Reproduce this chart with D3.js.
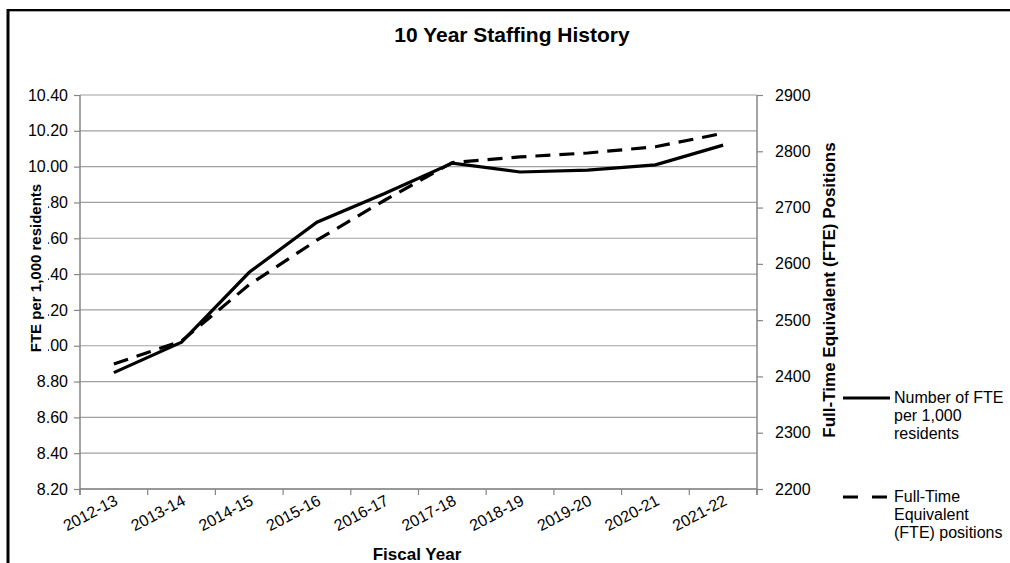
<!DOCTYPE html>
<html><head><meta charset="utf-8">
<script src="https://cdn.jsdelivr.net/npm/d3@7"></script>
<style>body{margin:0;background:#fff;}svg{font-family:"Liberation Sans",Arial,sans-serif;}</style>
</head><body>
<svg id="c" width="1010" height="563"></svg>
<script>
const categories = ["2012-13","2013-14","2014-15","2015-16","2016-17","2017-18","2018-19","2019-20","2020-21","2021-22"];
const ftePer1000 = [8.85, 9.02, 9.41, 9.69, 9.85, 10.02, 9.97, 9.98, 10.01, 10.12];
const ftePositions = [2422, 2463, 2563, 2642, 2713, 2780, 2790, 2797, 2808, 2832];
const leftTicks = [8.2, 8.4, 8.6, 8.8, 9.0, 9.2, 9.4, 9.6, 9.8, 10.0, 10.2, 10.4];
const rightTicks = [2200, 2300, 2400, 2500, 2600, 2700, 2800, 2900];

const svg = d3.select("#c");
const L = 80, R = 757, T = 95, B = 489;

// border
svg.append("line").attr("x1",8).attr("x2",1010).attr("y1",10).attr("y2",10).attr("stroke","#000").attr("stroke-width",2);
svg.append("line").attr("x1",8).attr("x2",1010).attr("y1",11.5).attr("y2",11.5).attr("stroke","#aaa").attr("stroke-width",1);
svg.append("line").attr("x1",8).attr("x2",8).attr("y1",9).attr("y2",563).attr("stroke","#000").attr("stroke-width",3);

const x = d3.scaleBand().domain(categories).range([L, R]).padding(0);
const yL = d3.scaleLinear().domain([8.2, 10.4]).range([B, T]);
const yR = d3.scaleLinear().domain([2200, 2900]).range([B, T]);

// gridlines
svg.append("g").selectAll("line").data(leftTicks).join("line")
  .attr("x1", L).attr("x2", R).attr("y1", d=>yL(d)).attr("y2", d=>yL(d))
  .attr("stroke", "#a0a0a0").attr("stroke-width", 1.2);

// left axis
const gL = svg.append("g").attr("transform",`translate(${L},0)`)
  .call(d3.axisLeft(yL).tickValues(leftTicks).tickFormat(d3.format(".2f")).tickSize(6).tickPadding(6));
// right axis
const gR = svg.append("g").attr("transform",`translate(${R},0)`)
  .call(d3.axisRight(yR).tickValues(rightTicks).tickFormat(d3.format("d")).tickSize(6).tickPadding(12));
// bottom axis
const gB = svg.append("g").attr("transform",`translate(0,${B})`)
  .call(d3.axisBottom(x).tickSize(0).tickFormat(""));
gB.selectAll(".tick").remove();
gB.selectAll("line.bt").data(d3.range(categories.length+1)).join("line").attr("class","bt")
  .attr("x1", i=>L + i*x.step()).attr("x2", i=>L + i*x.step()).attr("y1",0).attr("y2",6)
  .attr("stroke","#868686").attr("stroke-width",1.2);
gB.selectAll("text.cl").data(categories).join("text").attr("class","cl")
  .attr("transform", d=>`translate(${x(d)+x.bandwidth()/2+5},15) rotate(-28)`)
  .attr("text-anchor","end").attr("font-size",16).attr("fill","#000").text(d=>d);

[gL,gR,gB].forEach(g=>{
  g.selectAll("path.domain").attr("stroke","#868686").attr("stroke-width",1.5);
  g.selectAll(".tick line").attr("stroke","#868686").attr("stroke-width",1.2);
  g.selectAll(".tick text").attr("font-size",16).attr("fill","#000").attr("font-family","Liberation Sans, Arial, sans-serif");
});
gL.select("path.domain").attr("d",`M0,${B+6}V${T}`);
gR.select("path.domain").attr("d",`M0,${B+6}V${T}`);
gB.select("path.domain").attr("d",`M${L},0H${R}`);

// lines
const cx = d => x(d) + x.bandwidth()/2;
svg.append("path").datum(categories.map((c,i)=>[cx(c), yR(ftePositions[i])]))
  .attr("d", d3.line()).attr("fill","none").attr("stroke","#000").attr("stroke-width",3.2)
  .attr("stroke-dasharray","15,9");
svg.append("path").datum(categories.map((c,i)=>[cx(c), yL(ftePer1000[i])]))
  .attr("d", d3.line()).attr("fill","none").attr("stroke","#000").attr("stroke-width",3.2);

// title
svg.append("text").attr("x",512).attr("y",42).attr("text-anchor","middle")
  .attr("font-size",21).attr("font-weight","bold").text("10 Year Staffing History");
// x title
svg.append("text").attr("x",417).attr("y",560).attr("text-anchor","middle")
  .attr("font-size",17).attr("font-weight","bold").text("Fiscal Year");
// left y title with white background (hides the leading digits behind it, as in the original)
const lt = svg.append("g").attr("transform","translate(41,268) rotate(-90)");
const ltText = lt.append("text").attr("text-anchor","middle").attr("font-size",15).attr("font-weight","bold")
  .text("FTE per 1,000 residents");
const bb = ltText.node().getBBox();
lt.insert("rect","text").attr("x",bb.x).attr("y",bb.y+2).attr("width",bb.width).attr("height",bb.height+2).attr("fill","#fff");
// right y title
svg.append("text").attr("transform","translate(835,290) rotate(-90)").attr("text-anchor","middle")
  .attr("font-size",17).attr("font-weight","bold").text("Full-Time Equivalent (FTE) Positions");

// legend
const legend = [
  {lines:["Number of FTE","per 1,000","residents"], y:398, dash:null},
  {lines:["Full-Time","Equivalent","(FTE) positions"], y:497, dash:"15,14"}
];
legend.forEach(l=>{
  svg.append("line").attr("x1",843).attr("x2",890).attr("y1",l.y).attr("y2",l.y)
    .attr("stroke","#000").attr("stroke-width",3.2).attr("stroke-dasharray",l.dash);
  const t = svg.append("text").attr("x",894).attr("y",l.y+5).attr("font-size",16);
  l.lines.forEach((s,i)=>t.append("tspan").attr("x",894).attr("dy", i===0?0:18).text(s));
});
</script>
</body></html>
